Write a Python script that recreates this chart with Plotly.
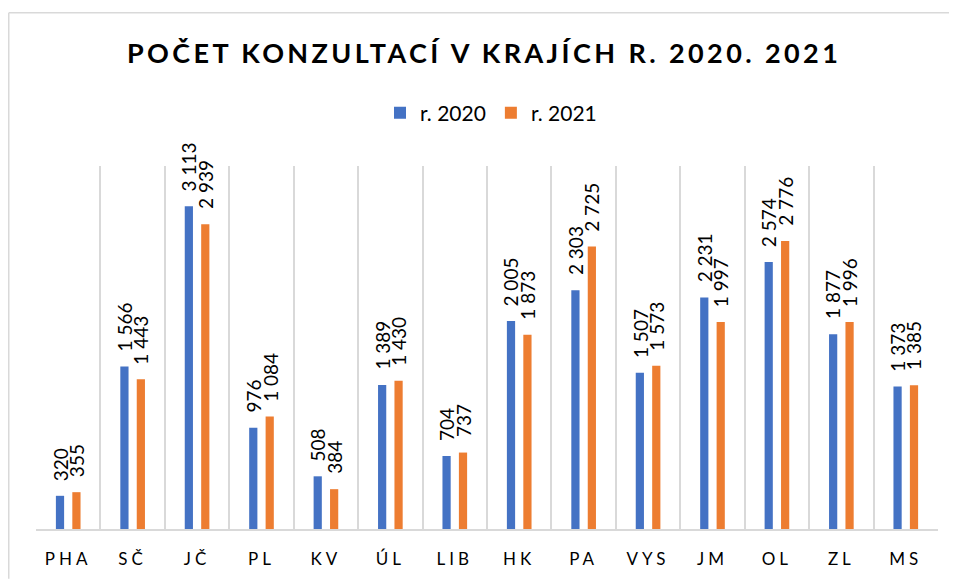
import plotly.graph_objects as go

categories = ["PHA", "SČ", "JČ", "PL", "KV", "ÚL", "LIB", "HK", "PA", "VYS", "JM", "OL", "ZL", "MS"]
values_2020 = [320, 1566, 3113, 976, 508, 1389, 704, 2005, 2303, 1507, 2231, 2574, 1877, 1373]
values_2021 = [355, 1443, 2939, 1084, 384, 1430, 737, 1873, 2725, 1573, 1997, 2776, 1996, 1385]
series_names = ["r. 2020", "r. 2021"]
colors = ["#4472C4", "#ED7D31"]
title_text = "POČET KONZULTACÍ V KRAJÍCH R. 2020. 2021"

FONT = "Lato"

# page body has an 8px margin; figure placed accordingly
W, H = 949, 573
L, R, T, B = 28, 19, 158, 50
PW, PH = W - L - R, H - T - B


def fmt(v):
    return f"{v:,}".replace(",", " ")


fig = go.Figure()
for name, vals, col in zip(series_names, [values_2020, values_2021], colors):
    fig.add_trace(go.Bar(
        x=categories, y=vals, name=name,
        marker=dict(color=col, line=dict(width=0)),
        hoverinfo="x+y",
    ))

annotations = []
for shift, vals in zip([-8.25, 8.25], [values_2020, values_2021]):
    for c, v in zip(categories, vals):
        annotations.append(dict(
            x=c, y=v, xref="x", yref="y", text=fmt(v), showarrow=False,
            textangle=-90, xanchor="center", yanchor="bottom",
            xshift=shift, yshift=13,
            font=dict(family=FONT, size=19, color="#000000"),
        ))

# title centre at (476, 44) in figure pixels
annotations.append(dict(
    x=(476 - L) / PW, y=(T + PH - 44) / PH, xref="paper", yref="paper",
    text=f'<span style="letter-spacing:3.4px">{title_text}</span>',
    showarrow=False, xanchor="center", yanchor="middle",
    font=dict(family=FONT, size=27, color="#000000", weight="bold"),
))

ticktext = [f'<span style="letter-spacing:4px">{c}</span>' for c in categories]

fig.update_layout(
    width=W, height=H,
    margin=dict(l=L, r=R, t=T, b=B),
    paper_bgcolor="white", plot_bgcolor="white",
    barmode="group", bargap=0.49, bargroupgap=0.5,
    showlegend=True,
    legend=dict(
        orientation="h", xref="container", yref="container",
        x=483 / W, y=1 - 105 / H, xanchor="center", yanchor="middle",
        font=dict(family=FONT, size=21, color="#000000"),
        itemwidth=30,
    ),
    xaxis=dict(
        type="category", tickvals=categories, ticktext=ticktext,
        tickson="boundaries", showgrid=True, gridcolor="#D9D9D9", gridwidth=1.5,
        showline=True, linecolor="#D9D9D9", linewidth=1.5,
        ticks="", tickfont=dict(family=FONT, size=17, color="#000000"),
        ticklabelstandoff=14, fixedrange=True,
    ),
    yaxis=dict(
        range=[0, 3500], visible=False, showgrid=False, zeroline=False, fixedrange=True,
    ),
    annotations=annotations,
    shapes=[
        dict(type="line", xref="paper", yref="paper",
             x0=(0.75 - L) / PW, x1=(W - L) / PW, y0=(T + PH - 4) / PH, y1=(T + PH - 4) / PH,
             line=dict(color="#D9D9D9", width=1.5)),
        dict(type="line", xref="paper", yref="paper",
             x0=(0.75 - L) / PW, x1=(0.75 - L) / PW, y0=(T + PH - 4) / PH, y1=-B / PH,
             line=dict(color="#D9D9D9", width=1.5)),
    ],
    font=dict(family=FONT),
)

fig.write_html("out.html")
